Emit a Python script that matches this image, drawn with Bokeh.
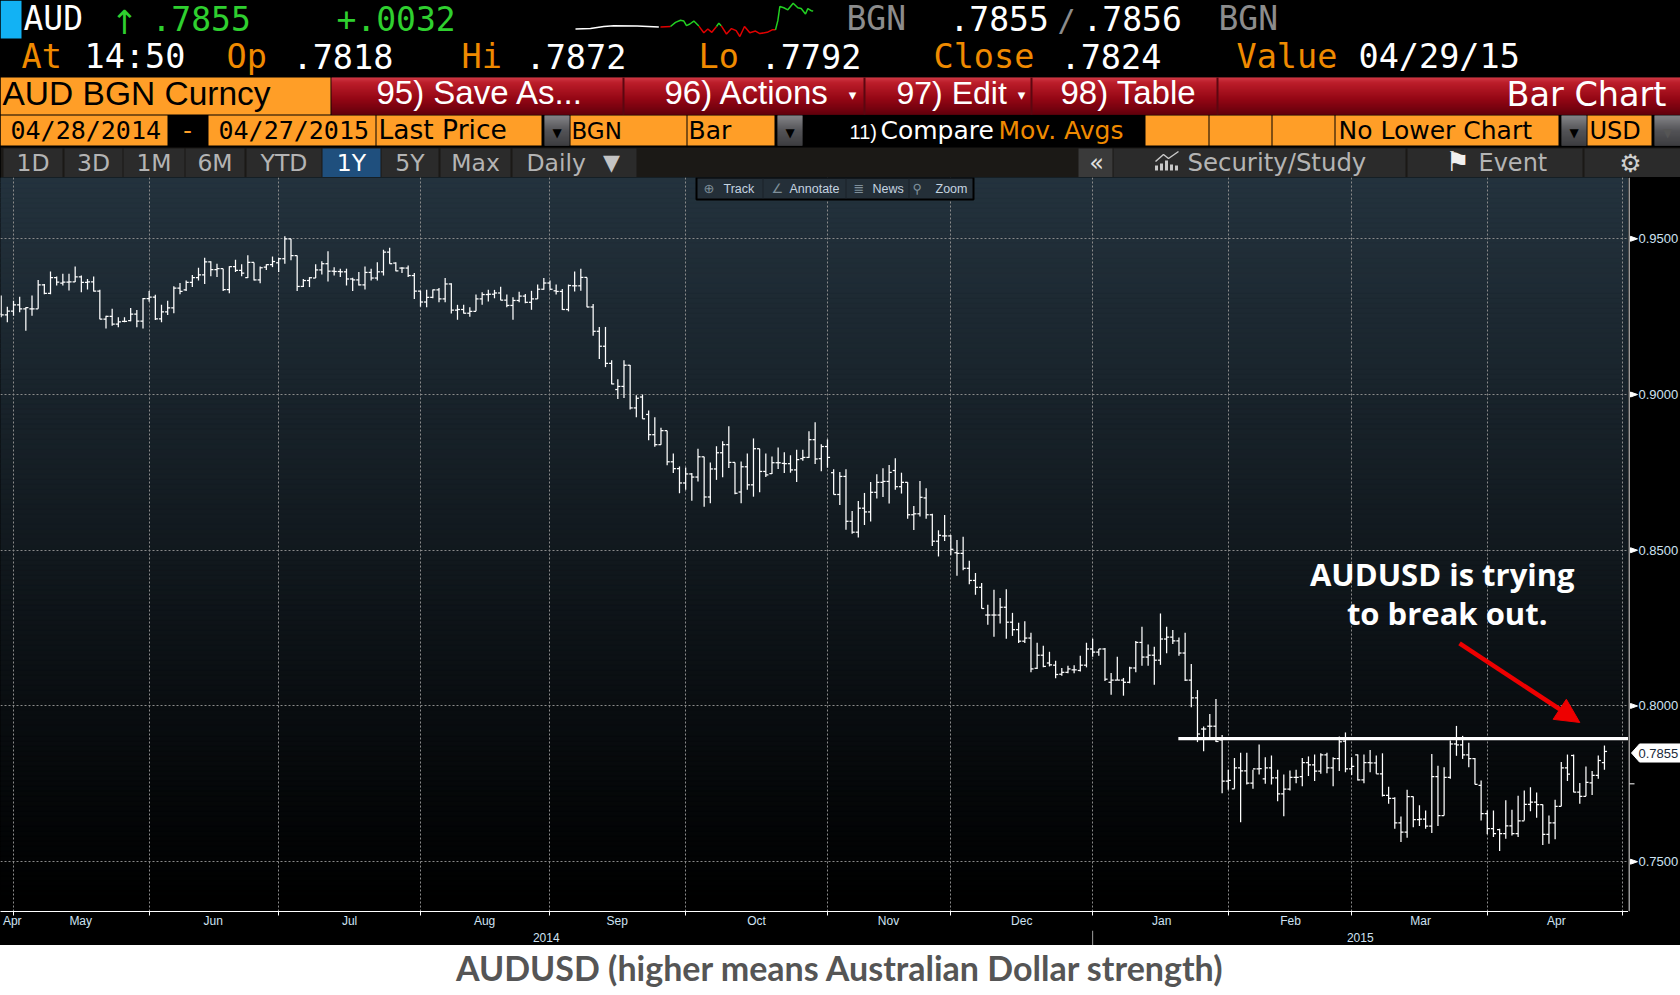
from bokeh.plotting import figure
from bokeh.layouts import column, row
from bokeh.embed import file_html
from bokeh.resources import INLINE
from bokeh.core.properties import value
from bokeh.models import (Range1d, FixedTicker, Arrow, NormalHead,
                          BoxAnnotation, Label, ColumnDataSource)
import numpy as np

# ---------- data (AUDUSD daily bars, ten-thousandths of a dollar) ----------
high = [9318,9282,9301,9314,9280,9318,9368,9355,9395,9379,
9388,9388,9411,9382,9371,9379,9336,9253,9275,9248,
9248,9278,9271,9310,9332,9320,9288,9301,9348,9358,
9366,9384,9407,9439,9428,9420,9404,9412,9433,9418,
9447,9424,9411,9418,9443,9439,9508,9500,9446,9371,
9377,9418,9428,9460,9409,9404,9404,9375,9393,9411,
9404,9425,9465,9471,9425,9409,9414,
9390,9333,9336,
9337,9342,9374,9357,9288,9288,9280,9321,9328,9336,
9336,9346,9321,9312,9330,9323,9333,9353,9374,9366,
9353,9339,9353,9395,9404,9376,9291,9217,9217,9110,
9049,9110,9095,8998,9000,8949,8927,8893,8884,8811,
8769,8766,8748,8826,8800,8782,8834,8850,8898,8782,
8785,8811,8859,8826,8811,8801,8830,8815,8805,8823,
8823,8882,8911,
8840,8856,8760,8751,8760,8626,8658,8684,8719,8744,8763,8774,8795,8749,8718,8642,8722,8699,8617,8564,
8613,8549,8533,8543,8466,8427,8395,8325,8373,8347,8375,8299,8267,8272,8235,8203,8193,8174,8145,8122,
8129,8131,8161,8203,8216,8183,8186,8106,8158,8090,8126,8209,8254,8197,8190,8297,8254,8244,8220,8235,
8135,8051,7934,7974,8022,7907,7795,7833,7850,7850,7795,7876,7835,7841,7795,7780,7793,7795,7833,7838,
7844,7848,7850,7835,7902,7915,7835,7844,7844,7859,7841,7848,7741,7707,7645,7731,7709,7681,7664,7846,
7808,7803,7889,7936,7904,7882,7833,7761,7664,7664,7606,7697,7667,7712,7729,7739,7722,7684,7648,7699,
7820,7844,7844,7753,7806,7791,7841,7873]
low = [9248,9232,9253,9264,9205,9253,9275,9322,9322,9350,
9350,9334,9361,9328,9337,9331,9242,9212,9221,9216,
9232,9235,9216,9212,9298,9239,9232,9255,9261,9322,
9332,9345,9366,9355,9380,9377,9332,9325,9393,9380,
9374,9366,9357,9400,9409,9393,9420,9431,9332,9345,
9345,9374,9385,9363,9382,9377,9350,9332,9350,9337,
9366,9366,9382,9420,9396,9390,9377,
9307,9282,9280,
9309,9296,9296,9260,9240,9260,9250,9267,9288,9299,
9309,9303,9280,9240,9296,9293,9272,9307,9336,9336,
9321,9271,9267,9331,9333,9280,9189,9114,9088,9033,
8986,8989,8952,8927,8922,8853,8832,8839,8773,8748,
8683,8694,8659,8721,8640,8651,8726,8734,8764,8680,
8651,8694,8672,8686,8735,8745,8761,8748,8749,8719,
8787,8796,8777,
8754,8765,8679,8645,8566,8553,8541,8581,8592,8666,8671,8650,8694,8682,8601,8565,8608,8601,8514,8480,
8530,8484,8418,8436,8391,8357,8313,8261,8222,8265,8216,8225,8202,8202,8108,8119,8124,8127,8089,8097,
8105,8105,8111,8124,8158,8161,8080,8036,8083,8033,8073,8108,8129,8129,8068,8132,8169,8199,8161,8080,
7996,7884,7855,7891,7884,7720,7731,7734,7627,7748,7734,7780,7750,7748,7694,7646,7729,7752,7742,7775,
7759,7782,7784,7742,7791,7787,7778,7761,7752,7787,7782,7709,7686,7606,7563,7577,7611,7615,7606,7592,
7615,7648,7766,7840,7830,7803,7748,7632,7588,7579,7534,7574,7584,7579,7632,7662,7641,7554,7558,7572,
7678,7759,7723,7686,7710,7714,7766,7795]
open_ = [9258,9256,9268,9288,9275,9275,9275,9352,9325,9375,
9358,9361,9362,9378,9360,9362,9332,9242,9251,9226,
9235,9237,9258,9236,9308,9313,9243,9265,9278,9342,
9336,9360,9375,9384,9426,9401,9404,9337,9411,9399,
9375,9424,9368,9409,9417,9423,9436,9500,9446,9347,
9366,9374,9400,9420,9396,9395,9394,9371,9368,9352,
9392,9374,9394,9457,9422,9406,9406,
9382,9332,9297,
9312,9336,9307,9355,9271,9273,9261,9267,9307,9321,
9322,9326,9303,9286,9302,9316,9296,9307,9338,9358,
9333,9331,9273,9349,9349,9376,9281,9203,9155,9100,
9016,9026,9094,8957,8992,8936,8871,8839,8884,8784,
8762,8716,8745,8735,8800,8671,8761,8813,8839,8782,
8687,8768,8710,8826,8753,8746,8781,8779,8778,8758,
8794,8798,8855,
8794,8833,8749,8679,8737,8593,8558,8635,8623,8686,8718,8721,8756,8704,8718,8614,8617,8668,8614,8529,
8546,8546,8492,8490,8442,8403,8381,8292,8292,8292,8317,8269,8245,8208,8218,8121,8163,8138,8131,8102,
8108,8116,8114,8131,8183,8173,8183,8076,8083,8083,8076,8122,8204,8157,8163,8147,8215,8221,8209,8170,
8083,8026,7926,7935,7935,7891,7759,7734,7801,7792,7752,7798,7766,7801,7769,7718,7733,7771,7773,7818,
7811,7791,7843,7801,7831,7887,7798,7843,7763,7818,7817,7782,7713,7703,7625,7595,7709,7635,7637,7614,
7773,7648,7771,7878,7875,7843,7831,7745,7654,7606,7603,7590,7615,7590,7631,7684,7691,7683,7588,7625,
7678,7801,7841,7723,7710,7753,7777,7818]
close = [9256,9268,9288,9275,9279,9275,9352,9325,9375,9361,
9361,9362,9378,9360,9362,9332,9242,9251,9226,9233,
9235,9258,9236,9308,9313,9243,9265,9278,9342,9331,
9360,9375,9384,9426,9401,9404,9337,9411,9399,9390,
9424,9368,9407,9417,9427,9436,9500,9446,9347,9366,
9375,9400,9420,9396,9395,9394,9371,9368,9352,9392,
9374,9394,9457,9420,9397,9406,9382,
9332,9297,9312,
9336,9307,9355,9271,9273,9261,9267,9307,9321,9322,
9326,9303,9286,9302,9316,9296,9307,9338,9358,9338,
9331,9273,9350,9349,9376,9281,9203,9155,9100,9034,
9026,9094,8957,8988,8922,8871,8839,8884,8784,8762,
8716,8745,8735,8800,8671,8761,8813,8839,8782,8683,
8768,8710,8826,8753,8742,8781,8781,8778,8758,8791,
8798,8855,8793,
8833,8798,8679,8737,8593,8558,8635,8623,8686,8718,8721,8750,8704,8718,8614,8617,8670,8614,8529,8548,
8546,8503,8490,8442,8403,8381,8313,8292,8292,8317,8269,8245,8208,8218,8119,8163,8127,8132,8101,8108,
8119,8116,8131,8183,8173,8183,8086,8083,8083,8076,8122,8204,8157,8163,8147,8215,8221,8209,8170,8083,
8026,7910,7926,7935,7886,7759,7761,7801,7792,7752,7798,7799,7801,7769,7718,7733,7771,7771,7818,7811,
7791,7843,7801,7831,7885,7798,7806,7763,7818,7817,7782,7713,7703,7625,7595,7709,7635,7637,7614,7773,
7648,7771,7878,7875,7843,7831,7748,7654,7606,7590,7590,7615,7590,7631,7684,7691,7683,7588,7625,7678,
7801,7781,7723,7710,7755,7777,7825,7854]
assert len(high) == len(low) == len(open_) == len(close), (len(high), len(low), len(open_), len(close))

price_ticks = [0.75, 0.80, 0.85, 0.90, 0.95]
price_labels = ["0.7500", "0.8000", "0.8500", "0.9000", "0.9500"]
last_price = 0.7855
last_label = "0.7855"
resistance = 0.7895
month_bounds = [2, 24, 45, 68, 89, 111, 134, 154, 177, 199, 219, 241, 263]
month_mid = [1.8, 12.9, 34.4, 56.5, 78.4, 99.9, 122.5, 143.9, 165.5, 188.2, 209.1, 230.2, 252.2]
month_names = ["Apr", "May", "Jun", "Jul", "Aug", "Sep", "Oct", "Nov", "Dec", "Jan", "Feb", "Mar", "Apr"]
year_mid = [88.4, 220.4]
year_names = ["2014", "2015"]
year_split = 177

# intraday sparkline in the quote line
spark_white_t = [15, 60, 100, 130, 200, 265]
spark_white_v = [.7810, .7811, .7816, .7818, .7817, .7815]
spark_red_t = [[270, 300], [385, 400, 412, 424, 438],
               [452, 468, 483, 497, 508, 522, 538, 555, 568, 590, 605, 615]]
spark_red_v = [[.7815, .7816], [.7817, .7801, .7810, .7802, .7816],
               [.7818, .7798, .7811, .7806, .7792, .7816, .7801, .7805, .7799, .7802, .7808, .7808]]
spark_green_t = [[300, 315, 330, 340, 348, 358, 370, 385], [438, 445, 452],
                 [615, 622, 628, 640, 652, 668, 682, 692, 705, 712, 722, 728]]
spark_green_v = [[.7816, .7826, .7831, .7829, .7818, .7822, .7829, .7817], [.7816, .7824, .7818],
                 [.7808, .7830, .7864, .7861, .7856, .7872, .7861, .7859, .7846, .7859, .7854, .7853]]

ORANGE = "#ff9e27"
ORTXT = "#ef8a00"
GREEN = "#2fd02f"
GREY = "#8c8c8c"
MONO = "DejaVu Sans Mono"
SANS = "DejaVu Sans"
LIB = "Liberation Sans"
AXTXT = "#cfe2f2"
BASE = 0.37  # the svg text baseline sits this many ems too low

COMMON = dict(toolbar_location=None, output_backend="svg", frame_align=False, outline_line_color=None)

# ---------- header terminal chrome ----------
hd = figure(width=1680, height=177, x_range=Range1d(0, 1680), y_range=Range1d(177, 0),
            x_axis_type=None, y_axis_type=None, min_border=0,
            background_fill_color="#000000", border_fill_color="#000000", **COMMON)

def box(x0, x1, y0, y1, c):
    hd.quad(left=[x0], right=[x1], top=[y0], bottom=[y1], fill_color=c, line_color=None)

def txt(x, y, s, c, size, font=MONO, align="left", style="normal"):
    hd.text(x=[x], y=[y], text=[s], text_color=c, text_font=value(font), text_font_size=value(f"{size}px"),
            text_align=align, text_baseline="alphabetic", text_font_style=style, y_offset=-BASE * size)

box(0, 21, 0, 38, "#12b2f4")
txt(23, 30, "AUD", "#ffffff", 33)
txt(124, 34, "↑", GREEN, 33, SANS, "center")
txt(151, 30, ".7855", GREEN, 33)
txt(336, 30, "+.0032", GREEN, 33)
txt(846, 30, "BGN", GREY, 33)
txt(949, 30, ".7855", "#ffffff", 33)
txt(1057, 31, "/", GREY, 30)
txt(1082, 30, ".7856", "#ffffff", 33)
txt(1218, 30, "BGN", GREY, 33)
row2 = [(21, "At", ORTXT), (84, "14:50", "#fff"), (226, "Op", ORTXT), (292, ".7818", "#fff"),
        (461, "Hi", ORTXT), (525, ".7872", "#fff"), (698, "Lo", ORTXT), (760, ".7792", "#fff"),
        (933, "Close", ORTXT), (1060, ".7824", "#fff"), (1236, "Value", ORTXT), (1358, "04/29/15", "#fff")]
for x, s, c in row2:
    txt(x, 68, s, c, 33.5)

# sparkline, on scales of its own
hd.extra_x_ranges["spark"] = Range1d(-1710, 3330)
hd.extra_y_ranges["spark"] = Range1d(.74536, .78784)
hd.line(spark_white_t, spark_white_v, color="#ffffff", line_width=1.5, x_range_name="spark", y_range_name="spark")
hd.multi_line(spark_red_t, spark_red_v, color="#e00000", line_width=1.5, x_range_name="spark", y_range_name="spark")
hd.multi_line(spark_green_t, spark_green_v, color="#22d022", line_width=1.5, x_range_name="spark", y_range_name="spark")

# row 3: title & red buttons
box(0, 330, 77, 114, ORANGE)
stops_y = [77, 82, 98, 114]
stops_c = np.array([[236, 62, 76], [214, 34, 48], [170, 8, 24], [112, 0, 14]])
ys = np.arange(77, 114)
rows = np.stack([np.interp(ys, stops_y, stops_c[:, i]) for i in range(3)], axis=1).astype(int)
hd.quad(left=331, right=1680, top=ys, bottom=ys + 1.3,
        fill_color=["#%02x%02x%02x" % tuple(r) for r in rows], line_color=None)
for xd in (623, 864, 1031, 1217):
    box(xd - 1, xd + 1, 77, 114, "#5c0710")
txt(2, 105, "AUD BGN Curncy", "#000000", 33.5, LIB)
txt(376, 104, "95) Save As...", "#ffffff", 33, LIB)
txt(664, 104, "96) Actions", "#ffffff", 33, LIB)
txt(852, 100, "▾", "#ffffff", 15, SANS, "center")
txt(896, 104, "97) Edit", "#ffffff", 32, LIB)
txt(1021, 100, "▾", "#ffffff", 15, SANS, "center")
txt(1060, 104, "98) Table", "#ffffff", 33, LIB)
txt(1666, 106, "Bar Chart", "#ffffff", 33.5, SANS, "right")

# row 4: form fields
for x0, x1 in [(0, 167), (208, 375), (376, 541), (570, 686), (687, 774), (1145, 1208), (1209, 1271), (1272, 1334),
               (1335, 1558), (1587, 1651)]:
    box(x0, x1, 115, 145, ORANGE)
def dropdown(x0, x1, tc):
    ys2 = np.arange(115, 145)
    cs = ["#%02x%02x%02x" % (int(v), int(v), int(v) + 4) for v in np.interp(ys2, [115, 130, 145], [150, 95, 70])]
    hd.quad(left=x0, right=x1, top=ys2, bottom=ys2 + 1.3, fill_color=cs, line_color=None)
    txt((x0 + x1) / 2, 137, "▼", tc, 12, SANS, "center")
dropdown(544, 569, "#000000")
dropdown(777, 802, "#000000")
dropdown(1561, 1586, "#000000")
dropdown(1654, 1680, "#555555")
txt(187, 139, "-", ORANGE, 25, MONO, "center")
txt(10, 139, "04/28/2014", "#000000", 25)
txt(218, 139, "04/27/2015", "#000000", 25)
txt(378, 139, "Last Price", "#000000", 26.5, SANS)
txt(571, 139, "BGN", "#000000", 23, SANS)
txt(688, 139, "Bar", "#000000", 25, SANS)
txt(849, 139, "11)", "#ffffff", 20, LIB)
txt(880, 139, "Compare", "#ffffff", 25, SANS)
txt(998, 139, "Mov. Avgs", ORTXT, 25, SANS)
txt(1338, 139, "No Lower Chart", "#000000", 25, SANS)
txt(1589, 139, "USD", "#000000", 24, SANS)

# row 5: tabs
box(0, 1680, 147, 177, "#1b1916")
tabs = [(3, 62, "1D"), (64, 122, "3D"), (123, 184, "1M"), (185, 244, "6M"), (246, 321, "YTD"), (322, 380, "1Y"),
        (381, 438, "5Y"), (440, 510, "Max")]
for x0, x1, s in tabs:
    on = s == "1Y"
    box(x0, x1, 148, 177, "#1f4f7d" if on else "#2b2b2b")
    txt((x0 + x1) / 2, 171, s, "#ffffff" if on else "#b4b4b4", 23.5, SANS, "center")
box(512, 636, 148, 177, "#2b2b2b")
txt(526, 171, "Daily", "#b4b4b4", 23.5, SANS)
txt(611, 170, "▼", "#c4c4c4", 22, SANS, "center")
box(1078, 1112, 148, 177, "#3a3a3a")
box(1113, 1405, 148, 177, "#2b2b2b")
box(1407, 1582, 148, 177, "#2b2b2b")
box(1584, 1680, 148, 177, "#2b2b2b")
txt(1096, 171, "«", "#e0e0e0", 24, SANS, "center")
txt(1187, 171, "Security/Study", "#b4b4b4", 24.4, SANS)
txt(1478, 171, "Event", "#b4b4b4", 24, SANS)
txt(1457, 171, "⚑", "#f0f0f0", 27, SANS, "center")
txt(1630, 172, "⚙", "#d0d0d0", 25, SANS, "center")
for xb, ht in [(1156, 5), (1161, 7), (1166, 10), (1171, 6), (1176, 5)]:
    box(xb - 1.5, xb + 1.5, 170 - ht, 170, "#c8c8c8")
hd.line([1155, 1163, 1168, 1178], [161, 154, 158, 151], color="#c8c8c8", line_width=1.5)

# ---------- price chart ----------
x = np.arange(len(close))
H, L, O, C = [np.array(a) / 10000 for a in (high, low, open_, close)]
Y0, Y1 = 0.73401, 0.96968
p = figure(width=1628, height=753, frame_width=1628, frame_height=734,
           x_range=Range1d(-0.109, 263.9), y_range=Range1d(Y0, Y1), y_axis_location=None,
           min_border_left=0, min_border_top=0, min_border_right=0, min_border_bottom=19,
           background_fill_color="#000000", border_fill_color="#000000", **COMMON)

# dark slate -> black backdrop
edges = np.linspace(Y0, Y1, 147)
fr = (edges[:-1] - Y0) / (Y1 - Y0)
cols = ["#%02x%02x%02x" % (int(36 * f), int(51 * f), int(62 * f)) for f in fr]
bg = p.quad(left=-0.109, right=263.9, bottom=edges[:-1], top=edges[1:], fill_color=cols, line_color=cols)
bg.level = "image"

for g in (p.xgrid[0], p.ygrid[0]):
    g.grid_line_color = "#8a8a8a"
    g.grid_line_dash = "2 2"
    g.grid_line_width = 1
p.xgrid[0].ticker = FixedTicker(ticks=month_bounds)
p.ygrid[0].ticker = FixedTicker(ticks=price_ticks)

xa = p.xaxis[0]
xa.ticker = FixedTicker(ticks=month_mid, minor_ticks=month_bounds)
xa.major_label_overrides = dict(zip(month_mid, month_names))
xa.axis_line_color = "#ffffff"
xa.axis_line_width = 1
xa.major_tick_line_color = None
xa.minor_tick_line_color = "#ffffff"
xa.minor_tick_in = 0
xa.minor_tick_out = 4
xa.major_tick_out = 0
xa.major_tick_in = 0
xa.major_label_standoff = -2
xa.major_label_text_color = AXTXT
xa.major_label_text_font = LIB
xa.major_label_text_font_size = "12px"

src = ColumnDataSource(dict(x=x, h=H, l=L, o=O, c=C, xl=x - 0.42, xr=x + 0.42))
p.segment(x0="x", x1="x", y0="l", y1="h", source=src, line_color="#ffffff", line_width=1.25)
p.segment(x0="xl", x1="x", y0="o", y1="o", source=src, line_color="#ffffff", line_width=1.25)
p.segment(x0="x", x1="xr", y0="c", y1="c", source=src, line_color="#ffffff", line_width=1.25)

# resistance line and call-out
p.segment(x0=[190.9], x1=[263.9], y0=[resistance], y1=[resistance], line_color="#ffffff", line_width=3.2)
p.text(x=[233.7], y=[0.8387], text=["AUDUSD is trying"], text_color="#ffffff", text_font=value("Open Sans"),
       text_font_style="bold", text_font_size=value("31px"), text_align="center", text_baseline="alphabetic",
       y_offset=-BASE * 31)
p.text(x=[234.5], y=[0.8261], text=["to break out."], text_color="#ffffff", text_font=value("Open Sans"),
       text_font_style="bold", text_font_size=value("31px"), text_align="center", text_baseline="alphabetic",
       y_offset=-BASE * 31)
p.add_layout(Arrow(x_start=236.5, y_start=0.8201, x_end=256, y_end=0.7947, line_color="#ee0000", line_width=4.5,
                   end=NormalHead(size=24, fill_color="#ee0000", line_color="#ee0000")))

# floating chart toolbar (screen y measured up from the frame's bottom edge)
FB = 911
def sy(v):
    return FB - v
p.add_layout(BoxAnnotation(left=696, right=973, top=sy(177), bottom=sy(199), left_units="screen", right_units="screen",
                           top_units="screen", bottom_units="screen", fill_color="#242f38", fill_alpha=1,
                           line_color="#000000", line_alpha=1, line_width=2))
for xd in (762, 845, 908):
    p.add_layout(BoxAnnotation(left=xd, right=xd + 1, top=sy(178), bottom=sy(198), left_units="screen", right_units="screen",
                               top_units="screen", bottom_units="screen", fill_color="#1a2229", fill_alpha=1, line_alpha=0))
for xt, s in [(723, "Track"), (789, "Annotate"), (872, "News"), (935, "Zoom")]:
    p.add_layout(Label(x=xt, y=sy(188), x_units="screen", y_units="screen", text=s, text_color="#c4d4e0",
                       text_font=LIB, text_font_size="12.5px", text_baseline="middle"))
for xt, s in [(703, "⊕"), (771, "∠"), (853, "≣"), (912, "⚲")]:
    p.add_layout(Label(x=xt, y=sy(188), x_units="screen", y_units="screen", text=s, text_color="#7f8f9a",
                       text_font=SANS, text_font_size="13px", text_baseline="middle"))

# ---------- price scale at the right (shares the chart's y range) ----------
ps = figure(width=52, height=753, frame_width=52, frame_height=734, x_range=Range1d(1628, 1680), y_range=p.y_range,
            x_axis_type=None, y_axis_type=None, min_border_left=0, min_border_top=0, min_border_right=0,
            min_border_bottom=19, background_fill_color="#000000", border_fill_color="#000000", **COMMON)
ps.segment(x0=[1628.5], x1=[1628.5], y0=[Y0], y1=[Y1], line_color="#ffffff", line_width=1.2)
ps.patches(xs=[[1630, 1630, 1637] for _ in price_ticks],
           ys=[[t + 0.0008, t - 0.0008, t] for t in price_ticks], fill_color="#ffffff", line_color="#ffffff")
ps.text(x=[1638] * len(price_ticks), y=price_ticks, text=price_labels, text_color=AXTXT, text_font=value(LIB),
        text_font_size=value("13px"), text_baseline="middle", text_align="left")
ps.segment(x0=[1629], x1=[1634], y0=[0.775], y1=[0.775], line_color="#ffffff", line_width=1)
flag_y = last_price - 0.0006
ps.patch(x=[1631, 1639, 1680, 1680, 1639], y=[flag_y, flag_y + 0.0029, flag_y + 0.0029, flag_y - 0.0029, flag_y - 0.0029],
         fill_color="#ffffff", line_color="#ffffff")
ps.text(x=[1638], y=[flag_y], text=[last_label], text_color="#1a2a3a", text_font=value(LIB),
        text_font_size=value("13px"), text_baseline="middle", text_align="left")

# ---------- year strip under the month labels ----------
ys_fig = figure(width=1680, height=15, x_range=Range1d(-0.109, 272.33), y_range=Range1d(15, 0),
                x_axis_type=None, y_axis_type=None, min_border=0,
                background_fill_color="#000000", border_fill_color="#000000", **COMMON)
ys_fig.text(x=year_mid, y=[6.5, 6.5], text=year_names, text_color=AXTXT, text_font=value(LIB),
            text_font_size=value("12px"), text_baseline="middle", text_align="center")
ys_fig.segment(x0=[year_split], x1=[year_split], y0=[0], y1=[15], line_color="#a0a0a0", line_width=1)

# ---------- caption ----------
cp = figure(width=1680, height=50, x_range=Range1d(0, 1680), y_range=Range1d(995, 945),
            x_axis_type=None, y_axis_type=None, min_border=0,
            background_fill_color="#ffffff", border_fill_color="#ffffff", **COMMON)
cp.text(x=[840], y=[980], text=["AUDUSD (higher means Australian Dollar strength)"], text_color="#555555",
        text_font=value("Lato"), text_font_style="bold", text_font_size=value("34px"), text_align="center",
        text_baseline="alphabetic", y_offset=-BASE * 34)

layout = column(hd, row(p, ps, spacing=0), ys_fig, cp, spacing=0)
html = file_html(layout, INLINE)
style = ("<style>html,body{margin:0;padding:0;overflow:hidden;height:995px;"
         "background:linear-gradient(#000 0,#000 945px,#fff 945px,#fff 995px)}</style>")
html = html.replace("<head>", "<head>" + style, 1)
open("out.html", "w").write(html)
